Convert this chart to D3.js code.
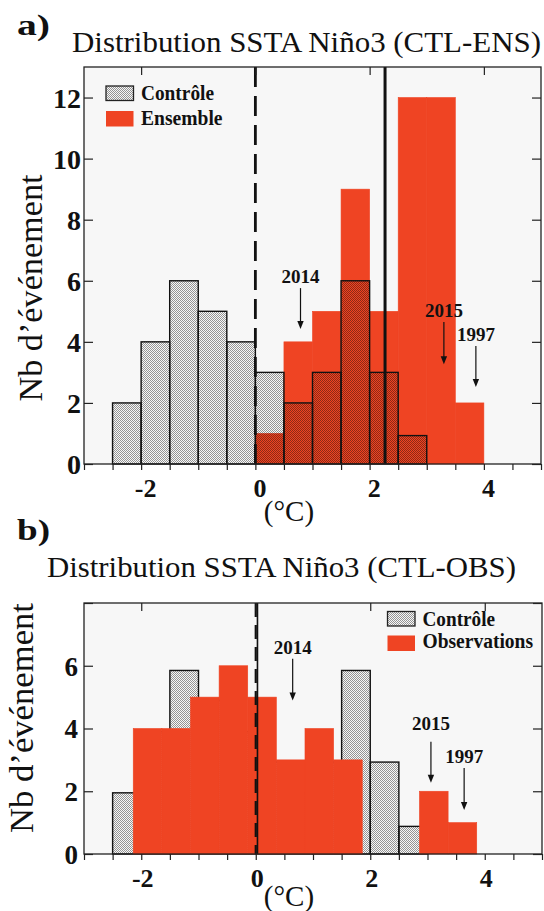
<!DOCTYPE html>
<html><head><meta charset="utf-8">
<script src="https://cdn.jsdelivr.net/npm/d3@7"></script>
<style>
body{margin:0;background:#fff}
svg{display:block}
text{font-family:"Liberation Serif","DejaVu Serif",serif;fill:#111}
</style>
</head><body>
<svg id="c" width="544" height="911"></svg>
<script>
// ---------------- data ----------------
const binWidth = 0.5;
const ctlBins = [-2.5, -2, -1.5, -1, -0.5, 0, 0.5, 1, 1.5, 2, 2.5];
const ctlCountsA = [2, 4, 6, 5, 4, 3, 2, 3, 6, 3, 0.93];
const ensBins = [0, 0.5, 1, 1.5, 2, 2.5, 3, 3.5];
const ensCounts = [1, 4, 5, 9, 5, 12, 12, 2];
const ctlCountsB = [1.95, 3.9, 5.85, 4.9, 3.9, 2.93, 1.95, 2.93, 5.85, 2.93, 0.88];
const obsBins = [-2.14, -1.64, -1.14, -0.64, -0.14, 0.36, 0.86, 1.36, 1.86, 2.36, 2.86, 3.36];
const obsCounts = [4, 4, 5, 6, 5, 3, 4, 3, 0, 0, 2, 1];
const xTickValues = [-3, -2.5, -2, -1.5, -1, -0.5, 0, 0.5, 1, 1.5, 2, 2.5, 3, 3.5, 4, 4.5, 5];
const xTickLabels = {"-2": "-2", "0": "0", "2": "2", "4": "4"};
const xMajor = [-2, 0, 2, 4];
const yTicksA = [0, 2, 4, 6, 8, 10, 12];
const yTicksB = [0, 2, 4, 6, 8];
const yLabelsB = [0, 2, 4, 6];
const meanEns = 2.27;
const meanObs = 0.03;
const yearsA = ["2014", "2015", "1997"];
const yearXA = [0.79, 3.30, 3.86];
const yearTipA = [4.42, 3.27, 2.52];
const yearTailA = [5.76, 4.65, 3.86];
const yearLabA = [5.94, 4.82, 4.04];
const yearsB = ["2014", "2015", "1997"];
const yearXB = [0.645, 3.06, 3.64];
const yearTipB = [4.89, 2.27, 1.40];
const yearTailB = [6.22, 3.58, 2.74];
const yearLabB = [6.37, 3.95, 2.89];

const RED = "#ef4423";
const svg = d3.select("#c");

const defs = svg.append("defs");
const pat = defs.append("pattern").attr("id", "dots")
  .attr("width", 2).attr("height", 2).attr("patternUnits", "userSpaceOnUse");
pat.append("rect").attr("x", 0).attr("y", 0).attr("width", 1).attr("height", 1).attr("fill", "#000").attr("fill-opacity", 0.4);
pat.append("rect").attr("x", 1).attr("y", 1).attr("width", 1).attr("height", 1).attr("fill", "#000").attr("fill-opacity", 0.4);

function panel(o) {
  const g = svg.append("g");
  const x = d3.scaleLinear().domain([-3, 5]).range([o.left, o.right]);
  const y = d3.scaleLinear().domain([0, o.ymax]).range([o.bottom, o.top]);

  g.append("rect").attr("x", o.left).attr("y", o.top)
    .attr("width", o.right - o.left).attr("height", o.bottom - o.top).attr("fill", "#f7f7f7");

  const drawRed = () => {
    g.append("g").selectAll("rect").data(o.redBins.map((b, i) => ({b, c: o.redCounts[i]})).filter(d => d.c > 0))
      .join("rect")
      .attr("x", d => x(d.b)).attr("width", d => x(d.b + binWidth) - x(d.b))
      .attr("y", d => y(d.c)).attr("height", d => y(0) - y(d.c))
      .attr("fill", RED).attr("stroke", RED).attr("stroke-width", 0.6);
  };
  const drawCtl = () => {
    g.append("g").selectAll("rect").data(ctlBins.map((b, i) => ({b, c: o.ctlCounts[i]})))
      .join("rect")
      .attr("x", d => x(d.b)).attr("width", d => x(d.b + binWidth) - x(d.b))
      .attr("y", d => y(d.c)).attr("height", d => y(0) - y(d.c))
      .attr("fill", "url(#dots)").attr("stroke", "#111").attr("stroke-width", 1.4);
  };
  if (o.ctlFirst) { drawCtl(); drawRed(); } else { drawRed(); drawCtl(); }

  g.append("line").attr("x1", x(0)).attr("x2", x(0)).attr("y1", o.top).attr("y2", o.bottom)
    .attr("stroke", "#111").attr("stroke-width", o.dashW).attr("stroke-dasharray", o.dash);
  g.append("line").attr("x1", x(o.mean)).attr("x2", x(o.mean)).attr("y1", o.top).attr("y2", o.bottom)
    .attr("stroke", "#111").attr("stroke-width", o.meanW);

  g.append("rect").attr("x", o.left).attr("y", o.top)
    .attr("width", o.right - o.left).attr("height", o.bottom - o.top)
    .attr("fill", "none").attr("stroke", "#222").attr("stroke-width", 1.3);

  const xb = g.append("g").attr("transform", `translate(0,${y(0)})`)
    .call(d3.axisBottom(x).tickValues(xTickValues).tickSize(6).tickFormat(d => xTickLabels[String(d)] || ""));
  xb.select(".domain").remove();
  xb.selectAll(".tick line").attr("stroke", "#222").attr("stroke-width", 1.2);
  xb.selectAll("text").attr("y", 33).attr("dy", null).attr("dx", o.xdx)
    .attr("font-size", 26).attr("font-weight", "bold").attr("font-family", "Liberation Serif").attr("fill", "#111");

  const xt = g.append("g").attr("transform", `translate(0,${o.top})`)
    .call(d3.axisTop(x).tickValues(xMajor).tickSize(-8).tickFormat(""));
  xt.select(".domain").remove();
  xt.selectAll(".tick line").attr("stroke", "#222").attr("stroke-width", 1.2);

  const yl = g.append("g").attr("transform", `translate(${o.left},0)`)
    .call(d3.axisLeft(y).tickValues(o.yTicks).tickSize(-9).tickPadding(0)
      .tickFormat(d => o.yLabels.includes(d) ? d : ""));
  yl.select(".domain").remove();
  yl.selectAll(".tick line").attr("stroke", "#222").attr("stroke-width", 1.2);
  yl.selectAll("text").attr("x", -o.ylPad).attr("dy", "0.35em")
    .attr("font-size", o.ylFont).attr("font-weight", "bold").attr("font-family", "Liberation Serif").attr("fill", "#111");

  const yr = g.append("g").attr("transform", `translate(${o.right},0)`)
    .call(d3.axisRight(y).tickValues(o.yTicks).tickSize(-9).tickFormat(""));
  yr.select(".domain").remove();
  yr.selectAll(".tick line").attr("stroke", "#222").attr("stroke-width", 1.2);

  o.years.forEach((yr_, i) => {
    const ax = x(o.yearX[i]);
    const tip = y(o.yearTip[i]);
    g.append("text").attr("x", ax).attr("y", y(o.yearLab[i])).attr("text-anchor", "middle")
      .attr("font-size", 19).attr("font-weight", "bold").text(yr_);
    g.append("line").attr("x1", ax).attr("x2", ax).attr("y1", y(o.yearTail[i])).attr("y2", tip - 5)
      .attr("stroke", "#111").attr("stroke-width", 1.2);
    g.append("path").attr("d", `M${ax},${tip} L${ax - 3.2},${tip - 8} L${ax + 3.2},${tip - 8} Z`).attr("fill", "#111");
  });

  const L = o.legend;
  g.append("rect").attr("x", L.x).attr("y", L.y1).attr("width", 27.5).attr("height", 14.5)
    .attr("fill", "#f7f7f7");
  g.append("rect").attr("x", L.x).attr("y", L.y1).attr("width", 27.5).attr("height", 14.5)
    .attr("fill", "url(#dots)").attr("stroke", "#222").attr("stroke-width", 1.3);
  g.append("text").attr("x", L.tx).attr("y", L.b1).attr("font-size", 20).attr("font-weight", "bold")
    .attr("textLength", L.w1).attr("lengthAdjust", "spacingAndGlyphs").text("Contrôle");
  g.append("rect").attr("x", L.x).attr("y", L.y2).attr("width", 27.5).attr("height", 15.5).attr("fill", RED);
  g.append("text").attr("x", L.tx).attr("y", L.b2).attr("font-size", 20).attr("font-weight", "bold")
    .attr("textLength", L.w2).attr("lengthAdjust", "spacingAndGlyphs").text(L.name2);

  g.append("text").attr("x", 289).attr("y", o.xlabY).attr("text-anchor", "middle")
    .attr("font-size", 29).text("(°C)");

  g.append("text").attr("transform", `translate(${o.ylabX},${o.ylabY}) rotate(-90)`)
    .attr("text-anchor", "middle").attr("font-size", 33)
    .attr("textLength", o.ylabLen).attr("lengthAdjust", "spacingAndGlyphs").text("Nb d’événement");

  g.append("text").attr("x", 17).attr("y", o.letterY).attr("font-size", 30).attr("font-weight", "bold")
    .attr("textLength", 33).attr("lengthAdjust", "spacingAndGlyphs").text(o.letter);
  g.append("text").attr("x", o.titleX).attr("y", o.titleY).attr("font-size", 29)
    .attr("textLength", o.titleLen).attr("lengthAdjust", "spacingAndGlyphs").text(o.title);
}

panel({
  left: 84, right: 541, top: 67, bottom: 464, ymax: 13,
  redBins: ensBins, redCounts: ensCounts, ctlCounts: ctlCountsA, ctlFirst: false,
  mean: meanEns, meanW: 3, dash: "20,9", dashW: 2.8, xdx: 4,
  yTicks: yTicksA, yLabels: yTicksA, ylFont: 28, ylPad: 3,
  years: yearsA, yearX: yearXA, yearTip: yearTipA, yearTail: yearTailA, yearLab: yearLabA,
  legend: {x: 106, y1: 86, y2: 111, tx: 141, b1: 99.5, b2: 124.5, w1: 73, w2: 81.5, name2: "Ensemble"},
  xlabY: 521, ylabX: 42, ylabY: 288, ylabLen: 227,
  letter: "a)", letterY: 35, title: "Distribution SSTA Niño3 (CTL-ENS)", titleX: 72, titleY: 52, titleLen: 469
});

panel({
  left: 84, right: 542, top: 603, bottom: 854, ymax: 8,
  redBins: obsBins, redCounts: obsCounts, ctlCounts: ctlCountsB, ctlFirst: true,
  mean: meanObs, meanW: 1.6, dash: "14,8", dashW: 2.2, xdx: 1,
  yTicks: yTicksB, yLabels: yLabelsB, ylFont: 27, ylPad: 6,
  years: yearsB, yearX: yearXB, yearTip: yearTipB, yearTail: yearTailB, yearLab: yearLabB,
  legend: {x: 387.5, y1: 611.5, y2: 635.5, tx: 422.5, b1: 626, b2: 648, w1: 72.5, w2: 110.5, name2: "Observations"},
  xlabY: 906, ylabX: 33, ylabY: 718, ylabLen: 230,
  letter: "b)", letterY: 540, title: "Distribution SSTA Niño3 (CTL-OBS)", titleX: 47, titleY: 577, titleLen: 469
});
</script>
</body></html>
